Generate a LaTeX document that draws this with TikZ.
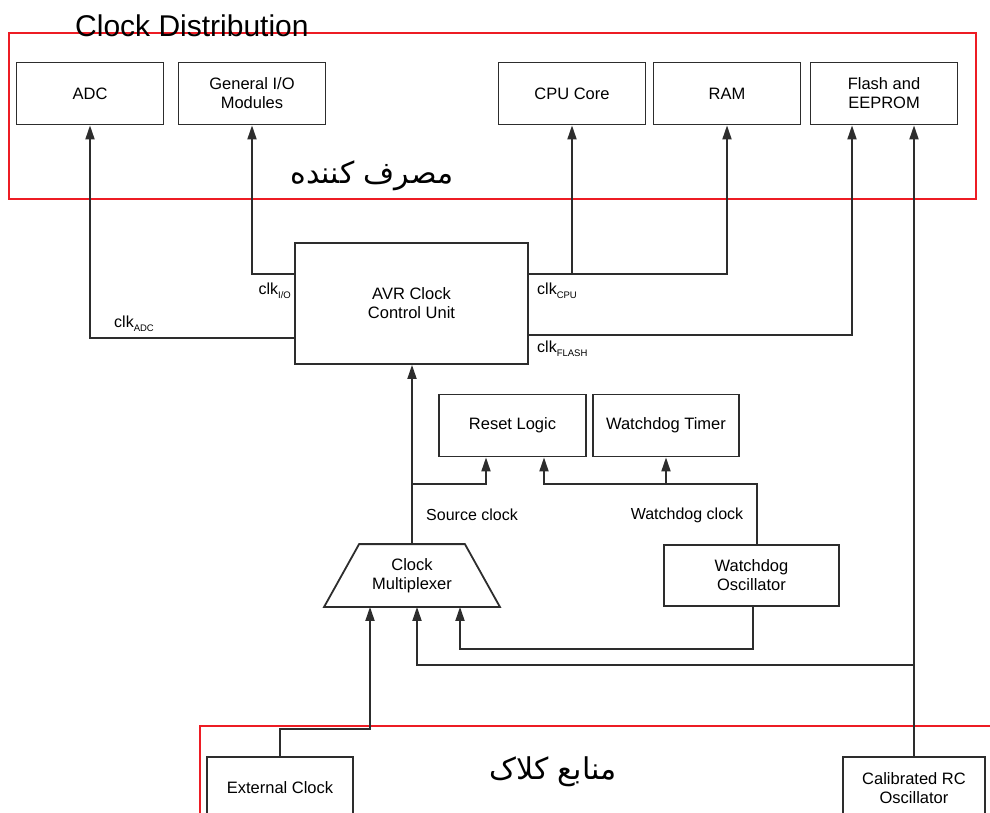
\documentclass[tikz,border=0pt]{standalone}
\usepackage{fontspec}
\setmainfont{Liberation Sans}
\newfontfamily\arabicfont[Script=Arabic]{DejaVu Sans}
\TeXXeTstate=1
\usetikzlibrary{arrows.meta, positioning, calc}
\definecolor{framered}{RGB}{237, 28, 36}
\definecolor{linegray}{RGB}{45, 45, 45}
\newcommand{\clksig}[1]{clk\raisebox{-4pt}{\fontsize{9.5}{10}\selectfont #1}}

\tikzset{
  unitbox/.style={rectangle, draw=linegray, line width=1.8pt, minimum width=147pt, minimum height=62pt, align=center, font=\fontsize{16.5}{19}\selectfont},
  wire/.style={draw=linegray, line width=1.8pt},
  arr/.style={wire, -{Triangle[length=14pt, width=9pt]}},
  redframe/.style={draw=framered, line width=1.4pt},
  siglabel/.style={font=\fontsize{16}{19}\selectfont, inner sep=0pt},
  persian/.style={font=\arabicfont\fontsize{30}{36}\selectfont, inner sep=0pt},
}

\begin{document}
\begin{tikzpicture}[x=1pt, y=-1pt]
    \useasboundingbox (0,0) rectangle (990,813);
    \clip (0,0) rectangle (990,813);

    % 时钟分配 (消费者)
    \draw[redframe] (9,33) rectangle (976,199);
    \node[font=\fontsize{30}{36}\selectfont, anchor=base west, inner sep=0pt] (title) at (75,37) {Clock Distribution};
    \node[persian] (consumers) at (372,176) {\beginR مصرف کننده\endR};

    \node[unitbox] (adc) at (90,93.5) {ADC};
    \node[unitbox] (gio) at (252,93.5) {General I/O\\Modules};
    \node[unitbox] (cpu) at (572,93.5) {CPU Core};
    \node[unitbox] (ram) at (727,93.5) {RAM};
    \node[unitbox] (flash) at (884,93.5) {Flash and\\EEPROM};

    % 时钟控制单元
    \node[unitbox, minimum width=233pt, minimum height=121pt] (avr) at (411.5,303.5) {AVR Clock\\Control Unit};
    \node[unitbox] (reset) at (512.5,425.5) {Reset Logic};
    \node[unitbox, minimum width=146pt] (wdt) at (666,425.5) {Watchdog Timer};

    % 多路选择器
    \node[unitbox, draw=none, minimum width=174pt, minimum height=61pt] (mux) at (412,575.5) {Clock\\Multiplexer};
    \draw[wire] (mux.south west) -- (mux.south east) -- ([xshift=-35pt]mux.north east) -- ([xshift=35pt]mux.north west) -- cycle;
    \node[unitbox, minimum width=175pt, minimum height=61pt] (wdosc) at (751.5,575.5) {Watchdog\\Oscillator};

    % 时钟源
    \draw[redframe] (200,726) rectangle (1000,840);
    \node[persian] (sources) at (553,772) {\beginR منابع کلاک\endR};
    \node[unitbox, minimum width=146pt] (extclk) at (280,788) {External Clock};
    \node[unitbox, minimum width=142pt] (rcosc) at (914,788) {Calibrated RC\\Oscillator};

    % 时钟信号
    \draw[arr] ([yshift=-34.5pt]avr.west) -| (adc.south);
    \draw[arr] ([yshift=29.5pt]avr.west) -| (gio.south);
    \coordinate (cpuout) at ([yshift=29.5pt]avr.east);
    \draw[arr] (cpuout) -| (ram.south);
    \draw[arr] (cpuout -| cpu.south) -- (cpu.south);
    \draw[arr] ([yshift=-31.5pt]avr.east) -| ([xshift=-32pt]flash.south);
    \draw[arr] (rcosc.north) -- (rcosc.north |- flash.south);

    \node[siglabel, anchor=east] (clkio) at (291,291) {\clksig{I/O}};
    \node[siglabel, anchor=west] (clkadc) at (114,324) {\clksig{ADC}};
    \node[siglabel, anchor=west] (clkcpu) at (537,291) {\clksig{CPU}};
    \node[siglabel, anchor=west] (clkflash) at (537,349) {\clksig{FLASH}};

    \draw[arr] (mux.north) -- (mux.north |- avr.south);
    \coordinate (srcjoin) at ([yshift=60pt]mux.north);
    \draw[arr] (srcjoin) -| ([xshift=-26.5pt]reset.south);
    \coordinate (wdjoin) at ([xshift=5.5pt, yshift=60pt]wdosc.north);
    \draw[arr] ([xshift=5.5pt]wdosc.north) -- (wdjoin) -| ([xshift=31.5pt]reset.south);
    \draw[arr] (wdjoin -| wdt.south) -- (wdt.south);
    \node[siglabel] (srclbl) at (472,515) {Source clock};
    \node[siglabel] (wdlbl) at (687,515) {Watchdog clock};

    % 多路选择器输入
    \coordinate (rcjoin) at ([yshift=91pt]rcosc.north);
    \draw[arr] (rcjoin) -| ([xshift=5pt]mux.south);
    \draw[arr] (extclk.north) -- ++(0,-27) -| ([xshift=-42pt]mux.south);
    \draw[arr] ([xshift=1.5pt]wdosc.south) -- ++(0,42) -| ([xshift=48pt]mux.south);
\end{tikzpicture}
\end{document}
